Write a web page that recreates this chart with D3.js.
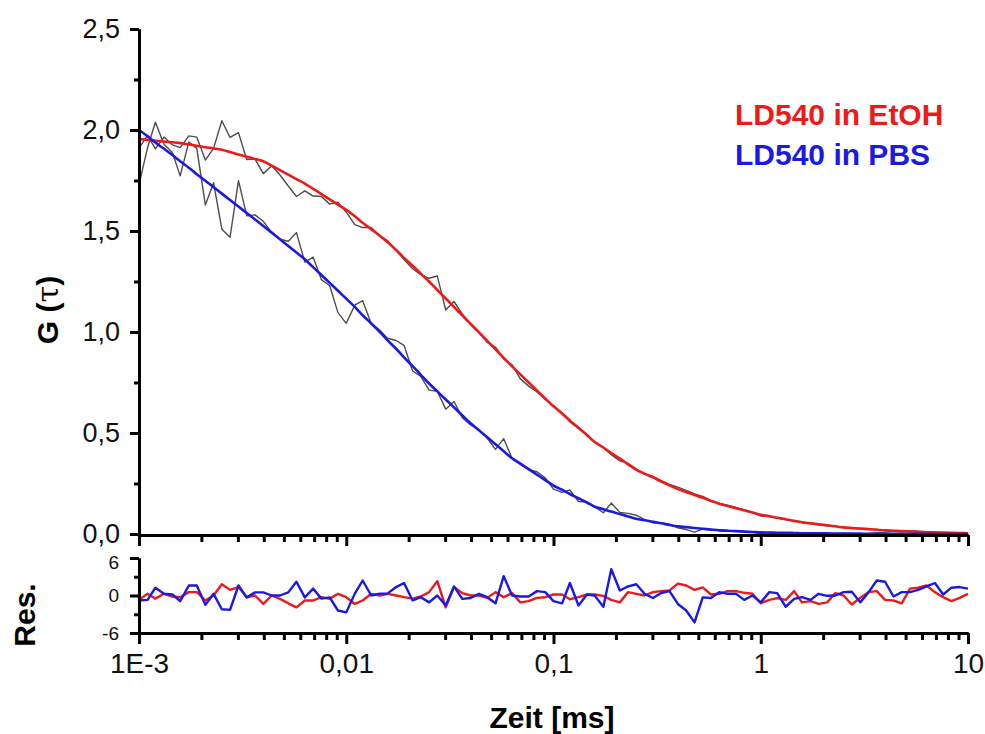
<!DOCTYPE html>
<html>
<head>
<meta charset="utf-8">
<script src="https://cdn.jsdelivr.net/npm/d3@7"></script>
<style>
  body { margin: 0; background: #fff; }
  svg { display: block; font-family: "Liberation Sans", Arial, sans-serif; }
</style>
</head>
<body>
<div id="chart"></div>
<script>
// lag times (ms), ~25 points per decade
const tau = [
  0.001, 0.0011, 0.0012, 0.00132, 0.00145, 0.00158, 0.00174, 0.0019, 0.00209, 0.00229,
  0.00251, 0.00275, 0.00302, 0.00331, 0.00363, 0.00398, 0.00437, 0.00479, 0.00525, 0.00575,
  0.00631, 0.00692, 0.00759, 0.00832, 0.00912,
  0.01, 0.011, 0.012, 0.0132, 0.0145, 0.0158, 0.0174, 0.019, 0.0209, 0.0229,
  0.0251, 0.0275, 0.0302, 0.0331, 0.0363, 0.0398, 0.0437, 0.0479, 0.0525, 0.0575,
  0.0631, 0.0692, 0.0759, 0.0832, 0.0912,
  0.1, 0.11, 0.12, 0.132, 0.145, 0.158, 0.174, 0.19, 0.209, 0.229,
  0.251, 0.275, 0.302, 0.331, 0.363, 0.398, 0.437, 0.479, 0.525, 0.575,
  0.631, 0.692, 0.759, 0.832, 0.912,
  1, 1.1, 1.2, 1.32, 1.45, 1.58, 1.74, 1.9, 2.09, 2.29,
  2.51, 2.75, 3.02, 3.31, 3.63, 3.98, 4.37, 4.79, 5.25, 5.75,
  6.31, 6.92, 7.59, 8.32, 9.12,
  10
];

// fit curves G(tau)
const fitEtOH = [
  1.955, 1.951, 1.947, 1.943, 1.939, 1.935, 1.928, 1.922, 1.915, 1.909,
  1.902, 1.891, 1.879, 1.868, 1.856, 1.845, 1.823, 1.801, 1.779, 1.757,
  1.735, 1.709, 1.683, 1.657, 1.631,
  1.605, 1.573, 1.541, 1.509, 1.477, 1.445, 1.406, 1.367, 1.328, 1.289,
  1.250, 1.208, 1.166, 1.124, 1.082, 1.040, 0.998, 0.956, 0.914, 0.872,
  0.830, 0.790, 0.750, 0.711, 0.671,
  0.632, 0.597, 0.561, 0.526, 0.490, 0.455, 0.428, 0.400, 0.373, 0.345,
  0.318, 0.299, 0.280, 0.260, 0.241, 0.222, 0.208, 0.193, 0.179, 0.164,
  0.150, 0.139, 0.128, 0.117, 0.106,
  0.095, 0.088, 0.080, 0.073, 0.065, 0.058, 0.053, 0.048, 0.043, 0.038,
  0.033, 0.030, 0.027, 0.024, 0.021, 0.018, 0.016, 0.014, 0.013, 0.011,
  0.009, 0.008, 0.007, 0.006, 0.005,
  0.004
];
const fitPBS = [
  2.000, 1.969, 1.938, 1.907, 1.876, 1.845, 1.813, 1.781, 1.749, 1.717,
  1.685, 1.653, 1.621, 1.589, 1.557, 1.525, 1.492, 1.459, 1.426, 1.393,
  1.360, 1.321, 1.282, 1.243, 1.204,
  1.165, 1.124, 1.083, 1.042, 1.001, 0.960, 0.917, 0.874, 0.831, 0.788,
  0.745, 0.706, 0.666, 0.627, 0.587, 0.548, 0.513, 0.479, 0.444, 0.410,
  0.375, 0.348, 0.321, 0.294, 0.267,
  0.240, 0.219, 0.198, 0.177, 0.156, 0.135, 0.123, 0.111, 0.099, 0.087,
  0.075, 0.068, 0.060, 0.053, 0.045, 0.038, 0.034, 0.030, 0.026, 0.022,
  0.018, 0.016, 0.014, 0.012, 0.010,
  0.008, 0.007, 0.006, 0.006, 0.005, 0.004, 0.004, 0.003, 0.003, 0.002,
  0.002, 0.002, 0.002, 0.001, 0.001, 0.001, 0.001, 0.001, 0.001, 0.001,
  0.001, 0.000, 0.000, 0.000, 0.000,
  0.000
];

// measured correlation data (grey)
const dataEtOH = [
  1.910, 1.973, 1.907, 1.965, 1.926, 1.913, 1.971, 1.965, 1.851, 1.909,
  2.046, 1.963, 1.987, 1.854, 1.856, 1.784, 1.823, 1.777, 1.723, 1.671,
  1.699, 1.673, 1.671, 1.633, 1.643,
  1.593, 1.532, 1.517, 1.517, 1.477, 1.453, 1.406, 1.359, 1.313, 1.284,
  1.266, 1.277, 1.109, 1.151, 1.090, 1.040, 0.998, 0.948, 0.925, 0.867,
  0.838, 0.768, 0.732, 0.703, 0.666,
  0.635, 0.599, 0.555, 0.523, 0.492, 0.457, 0.428, 0.393, 0.362, 0.350,
  0.321, 0.299, 0.285, 0.264, 0.245, 0.232, 0.216, 0.198, 0.186, 0.165,
  0.151, 0.143, 0.132, 0.119, 0.107,
  0.089, 0.087, 0.079, 0.072, 0.066, 0.056, 0.051, 0.045, 0.041, 0.039,
  0.033, 0.027, 0.026, 0.025, 0.022, 0.017, 0.014, 0.012, 0.015, 0.013,
  0.012, 0.009, 0.006, 0.004, 0.004,
  0.005
];
const dataPBS = [
  1.730, 1.913, 2.038, 1.929, 1.889, 1.773, 1.941, 1.909, 1.629, 1.739,
  1.509, 1.469, 1.749, 1.575, 1.580, 1.548, 1.492, 1.459, 1.449, 1.492,
  1.346, 1.371, 1.259, 1.229, 1.096,
  1.043, 1.133, 1.155, 1.042, 1.010, 0.969, 0.958, 0.934, 0.807, 0.780,
  0.712, 0.706, 0.618, 0.656, 0.576, 0.540, 0.518, 0.474, 0.419, 0.472,
  0.375, 0.345, 0.318, 0.308, 0.278,
  0.222, 0.206, 0.218, 0.161, 0.158, 0.135, 0.105, 0.153, 0.107, 0.102,
  0.093, 0.071, 0.056, 0.055, 0.049, 0.031, 0.022, 0.009, 0.024, 0.020,
  0.021, 0.017, 0.015, 0.008, 0.010,
  0.002, 0.008, 0.007, 0.002, 0.004, 0.003, 0.003, 0.004, 0.003, 0.002,
  0.003, 0.003, 0.000, 0.002, 0.006, 0.005, 0.001, 0.002, 0.002, 0.003,
  0.003, 0.004, 0.000, 0.002, 0.003,
  0.002
];

// weighted residuals
const resEtOH = [
  -0.7, 0.27, -0.5, 0.27, -0.16, -0.27, 0.54, 0.54, -0.8, 0,
  1.8, 0.9, 1.35, -0.3, 0, -1.35, 0, -0.54, -1.25, -1.9,
  -0.8, -0.8, -0.27, -0.54, 0.27,
  -0.27, -1.35, -0.8, 0.27, 0, 0.27, 0, -0.27, -0.5, -0.16,
  0.54, 2.3, -1.9, 1.35, 0.38, 0, 0, -0.38, 0.54, -0.27,
  0.38, -1.1, -0.9, -0.38, -0.27,
  0.16, 0.16, -0.6, -0.27, 0.16, 0.16, -0.05, -0.7, -1.1, 0.54,
  0.27, 0, 0.54, 0.7, 0.8, 1.9, 1.6, 0.9, 1.3, 0.16,
  0.27, 0.7, 0.7, 0.43, 0.27,
  -1.25, -0.7, -0.43, -0.7, 0.7, -1.1, -0.9, -1.35, -1.1, 0.38,
  0, -1.45, -0.38, 0.54, 0.7, -0.7, -0.8, -1.25, 1.1, 1.25,
  1.6, 0.54, -0.27, -0.9, -0.38,
  0.27
];
const resPBS = [
  -0.8, -0.7, 1.25, 0.27, 0.16, -0.9, 1.6, 1.6, -1.5, 0.27,
  -2.2, -2.3, 1.6, -0.3, 0.5, 0.5, 0, 0, 0.5, 2.2,
  -0.3, 1.1, -0.5, -0.3, -2.4,
  -2.7, 0.3, 2.4, 0, 0.3, 0.3, 1.35, 2.0, -0.8, -0.27,
  -1.1, 0, -1.6, 1.45, -0.54, -0.4, 0.27, -0.27, -1.25, 3.1,
  0, -0.16, -0.16, 0.7, 0.54,
  -0.9, -1.25, 2.0, -1.6, 0.16, 0, -1.8, 4.2, 0.8, 1.45,
  1.8, 0.27, -0.4, 0.4, 0.7, -1.35, -2.4, -4.3, -0.3, -0.4,
  0.54, 0.27, 0.27, -0.7, 0,
  -1.1, 0.54, 0.38, -1.8, -0.54, -0.27, -0.7, 0.27, -0.05, 0,
  0.54, 0.6, -1.1, 0.5, 2.4, 2.2, -0.16, 0.54, 0.54, 0.9,
  1.45, 2.0, 0.16, 1.25, 1.35,
  1.1
];

const xTicks = [0.001, 0.01, 0.1, 1, 10];
const xTickLabels = ['1E-3', '0,01', '0,1', '1', '10'];
const yTicks = [0, 0.5, 1.0, 1.5, 2.0, 2.5];
const yMinorTicks = [0.25, 0.75, 1.25, 1.75, 2.25];
const resTicks = [-6, 0, 6];
const resMinorTicks = [-3, 3];
const legendLabels = ['LD540 in EtOH', 'LD540 in PBS'];

const RED = '#ee1a1a';
const BLUE = '#1a1ae6';
const GREY = '#4d4d4d';

const width = 985, height = 734;
const svg = d3.select('#chart').append('svg')
  .attr('width', width)
  .attr('height', height);

const x = d3.scaleLog().domain([0.001, 10]).range([139, 968]);
const y = d3.scaleLinear().domain([0, 2.5]).range([534, 29]);
const yr = d3.scaleLinear().domain([-6, 6]).range([633, 558]);

const comma = d => d.toFixed(1).replace('.', ',');

function styleAxis(g, fontSize) {
  g.select('.domain').attr('stroke', '#000').attr('stroke-width', 3);
  g.selectAll('.tick line').attr('stroke', '#000').attr('stroke-width', 3);
  g.selectAll('.tick text')
    .attr('fill', '#111')
    .style('font-size', fontSize + 'px')
    .style('font-family', '"Liberation Sans", Arial, sans-serif');
}

// series
const pts = vals => vals.map((v, i) => ({ t: tau[i], v }));
const lineMain = d3.line().x(d => x(d.t)).y(d => y(d.v));
const lineFit = d3.line().x(d => x(d.t)).y(d => y(d.v)).curve(d3.curveMonotoneX);
const lineRes = d3.line().x(d => x(d.t)).y(d => yr(d.v));

[dataEtOH, dataPBS].forEach(arr => {
  svg.append('path')
    .attr('d', lineMain(pts(arr)))
    .attr('fill', 'none')
    .attr('stroke', GREY)
    .attr('stroke-width', 1.4)
    .attr('stroke-linejoin', 'round');
});

[[fitEtOH, RED], [fitPBS, BLUE]].forEach(([arr, c]) => {
  svg.append('path')
    .attr('d', lineFit(pts(arr)))
    .attr('fill', 'none')
    .attr('stroke', c)
    .attr('stroke-width', 2.6);
});

[[resEtOH, RED], [resPBS, BLUE]].forEach(([arr, c]) => {
  svg.append('path')
    .attr('d', lineRes(pts(arr)))
    .attr('fill', 'none')
    .attr('stroke', c)
    .attr('stroke-width', 2.4)
    .attr('stroke-linejoin', 'round');
});

// main y axis
svg.append('g')
  .attr('transform', 'translate(139,0)')
  .call(d3.axisLeft(y).tickValues(yMinorTicks).tickSize(5).tickSizeOuter(0).tickFormat(''))
  .call(g => styleAxis(g, 27));
svg.append('g')
  .attr('transform', 'translate(139,0)')
  .call(d3.axisLeft(y).tickValues(yTicks).tickSize(9).tickSizeOuter(0).tickPadding(10).tickFormat(comma))
  .call(g => styleAxis(g, 27));

// main x axis (no labels)
const minorX = x.ticks().filter(t => !xTicks.some(m => Math.abs(m - t) < 1e-12));
svg.append('g')
  .attr('transform', 'translate(0,535)')
  .call(d3.axisBottom(x).tickValues(minorX).tickSize(7).tickSizeOuter(0).tickFormat(''))
  .call(g => styleAxis(g, 28));
svg.append('g')
  .attr('transform', 'translate(0,535)')
  .call(d3.axisBottom(x).tickValues(xTicks).tickSize(11).tickSizeOuter(0).tickFormat(''))
  .call(g => styleAxis(g, 28));

// residual y axis
svg.append('g')
  .attr('transform', 'translate(139,0)')
  .call(d3.axisLeft(yr).tickValues(resMinorTicks).tickSize(5).tickSizeOuter(0).tickFormat(''))
  .call(g => styleAxis(g, 19));
svg.append('g')
  .attr('transform', 'translate(139,0)')
  .call(d3.axisLeft(yr).tickValues(resTicks).tickSize(9).tickSizeOuter(0).tickPadding(11).tickFormat(d => String(d)))
  .call(g => styleAxis(g, 19))
  .call(g => g.selectAll('.tick text').filter(d => d === 6).attr('dy', '0.55em'));

// residual x axis with labels
svg.append('g')
  .attr('transform', 'translate(0,633)')
  .call(d3.axisBottom(x).tickValues(minorX).tickSize(7).tickSizeOuter(0).tickFormat(''))
  .call(g => styleAxis(g, 28));
svg.append('g')
  .attr('transform', 'translate(0,633)')
  .call(d3.axisBottom(x).tickValues(xTicks).tickSize(11).tickSizeOuter(0).tickPadding(9)
    .tickFormat((d, i) => xTickLabels[i]))
  .call(g => styleAxis(g, 28));

// axis titles
svg.append('text')
  .attr('x', 552).attr('y', 728)
  .attr('text-anchor', 'middle')
  .style('font-size', '30px').style('font-weight', 'bold')
  .text('Zeit [ms]');

const gt = svg.append('text')
  .attr('transform', 'translate(58,310) rotate(-90)')
  .attr('text-anchor', 'middle')
  .style('font-size', '30px').style('font-weight', 'bold');
gt.append('tspan').text('G (');
gt.append('tspan').style('font-weight', 'normal').style('font-family', '"DejaVu Serif", serif').text('τ');
gt.append('tspan').text(')');

svg.append('text')
  .attr('transform', 'translate(35,615) rotate(-90)')
  .attr('text-anchor', 'middle')
  .style('font-size', '30px').style('font-weight', 'bold')
  .text('Res.');

// legend
svg.selectAll('.legend')
  .data(legendLabels)
  .enter().append('text')
  .attr('class', 'legend')
  .attr('x', 735)
  .attr('y', (d, i) => 125 + i * 40)
  .attr('fill', (d, i) => i === 0 ? RED : BLUE)
  .style('font-size', '30px').style('font-weight', 'bold')
  .text(d => d);
</script>
</body>
</html>
